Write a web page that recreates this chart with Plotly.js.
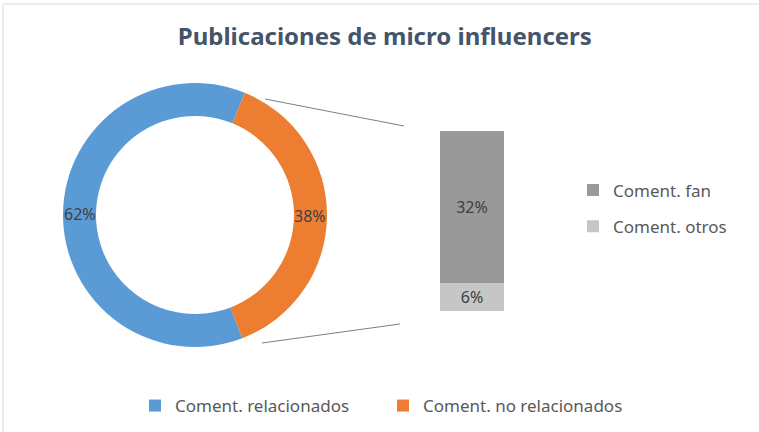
<!DOCTYPE html>
<html>
<head>
<meta charset="utf-8">
<script src="https://cdn.plot.ly/plotly-3.0.1.min.js"></script>
<style>html,body{margin:0;padding:0;background:#fff;}#chart{width:759px;height:432px;}</style>
</head>
<body>
<div id="chart"></div>
<script>
// Data
const pieLabels = ["Coment. relacionados", "Coment. no relacionados"];
const pieValues = [62, 38];
const pieColors = ["#5b9bd5", "#ed7d31"];

const barCategory = ["Coment. no relacionados"];
const barSeriesNames = ["Coment. otros", "Coment. fan"];
const barSeriesValues = [[6], [32]];
const barColors = ["#c6c6c6", "#999999"];
const barLegendRank = [2, 1];

const titleText = "Publicaciones de micro influencers";

const W = 759, H = 432;
const px = x => x / W;
const py = y => 1 - y / H;

const pieRotation = 159;
const pieBox = { x0: 63, x1: 327, y0: 83, y1: 347 };
const pieHole = 0.75;

const pie = {
  type: "pie",
  labels: pieLabels,
  values: pieValues,
  sort: false,
  direction: "clockwise",
  rotation: pieRotation,
  hole: pieHole,
  marker: { colors: pieColors, line: { width: 0 } },
  textinfo: "none",
  domain: { x: [px(pieBox.x0), px(pieBox.x1)], y: [py(pieBox.y1), py(pieBox.y0)] },
  legend: "legend",
  hoverinfo: "label+percent"
};

// Pie percentage labels placed at each slice's mid-angle, in the middle of the ring
const total = pieValues.reduce((a, b) => a + b, 0);
const cx = (pieBox.x0 + pieBox.x1) / 2, cy = (pieBox.y0 + pieBox.y1) / 2;
const R = (pieBox.x1 - pieBox.x0) / 2;
const rMid = R * (1 + pieHole) / 2;
let cum = 0;
const pieAnnotations = pieValues.map(v => {
  const mid = (pieRotation + (cum + v / 2) / total * 360) * Math.PI / 180;
  cum += v;
  return {
    xref: "paper", yref: "paper",
    x: px(cx + rMid * Math.sin(mid)), y: py(cy - rMid * Math.cos(mid)),
    xanchor: "center", yanchor: "middle", showarrow: false,
    text: Math.round(v / total * 100) + "%",
    font: { family: "Noto Sans, sans-serif", size: 16, color: "#404040" }
  };
});

const bars = barSeriesNames.map((name, i) => ({
  type: "bar",
  name: name,
  legendgroup: name,
  legendrank: barLegendRank[i],
  x: barCategory,
  y: barSeriesValues[i],
  marker: { color: barColors[i], line: { width: 0 } },
  width: 1,
  texttemplate: "%{y}%",
  textposition: "inside",
  insidetextanchor: "middle",
  textfont: { family: "Noto Sans, sans-serif", size: 16, color: "#404040" },
  constraintext: "none",
  legend: "legend2",
  xaxis: "x",
  yaxis: "y"
}));

const layout = {
  width: W, height: H,
  margin: { l: 0, r: 0, t: 0, b: 0 },
  paper_bgcolor: "#ffffff",
  plot_bgcolor: "rgba(0,0,0,0)",
  barmode: "stack",
  title: {
    text: "<b>" + titleText + "</b>",
    font: { family: "Noto Sans, sans-serif", size: 24, color: "#44546a" },
    x: 0.507, xanchor: "center", y: py(37), yanchor: "middle", xref: "paper", yref: "paper"
  },
  xaxis: { domain: [px(440), px(504)], range: [-0.5, 0.5], visible: false, fixedrange: true },
  yaxis: { domain: [py(311), py(131)], range: [0, 38], visible: false, fixedrange: true },
  legend: {
    orientation: "h",
    x: px(135), xanchor: "left", y: py(406), yanchor: "middle",
    font: { family: "Noto Sans, sans-serif", size: 17, color: "#595959" },
    itemwidth: 30, entrywidth: 203, bgcolor: "rgba(0,0,0,0)"
  },
  legend2: {
    orientation: "v",
    x: px(573), xanchor: "left", y: py(208.5), yanchor: "middle",
    traceorder: "grouped",
    tracegroupgap: 11,
    font: { family: "Noto Sans, sans-serif", size: 17, color: "#595959" },
    itemwidth: 30, bgcolor: "rgba(0,0,0,0)"
  },
  annotations: pieAnnotations,
  shapes: [
    { type: "line", xref: "paper", yref: "paper", x0: px(265), y0: py(99), x1: px(404), y1: py(126), line: { color: "#7f7f7f", width: 1 } },
    { type: "line", xref: "paper", yref: "paper", x0: px(262), y0: py(343), x1: px(400), y1: py(324), line: { color: "#7f7f7f", width: 1 } },
    { type: "line", xref: "paper", yref: "paper", x0: px(3), y0: py(4), x1: 1, y1: py(4), line: { color: "#e4e8ec", width: 1.5 } },
    { type: "line", xref: "paper", yref: "paper", x0: px(3), y0: py(4), x1: px(3), y1: 0, line: { color: "#e4e8ec", width: 1.5 } }
  ],
  showlegend: true
};

Plotly.newPlot("chart", [pie, ...bars], layout, { displayModeBar: false, staticPlot: true });
</script>
</body>
</html>
